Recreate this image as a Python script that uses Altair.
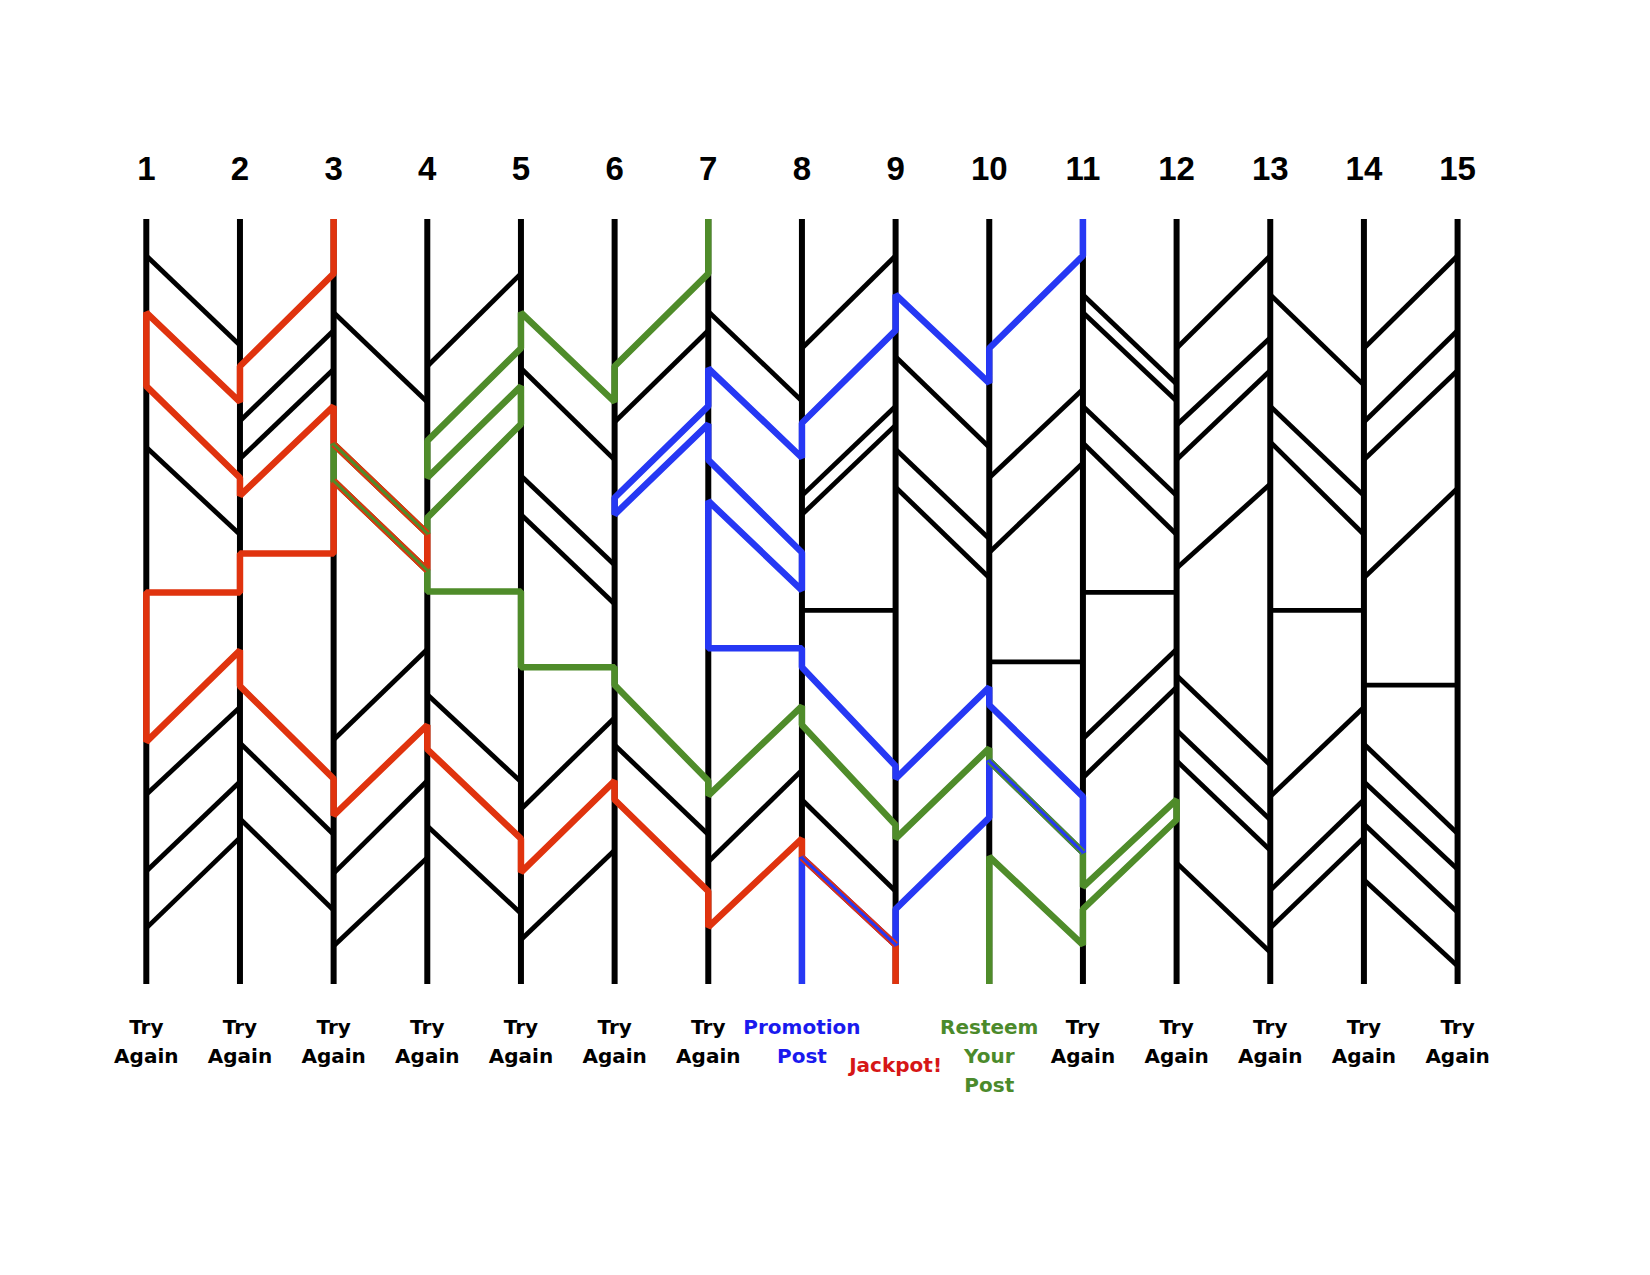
import altair as alt
import pandas as pd

# ---------------- data ----------------
columns = list(range(1, 16))
top_labels = [str(c) for c in columns]
bottom_labels = ["Try\nAgain"] * 7 + ["Promotion\nPost", "Jackpot!", "Resteem\nYour\nPost"] + ["Try\nAgain"] * 5
label_colors = ["#000000"] * 7 + ["#1a1aee", "#d61616", "#4b8a2b"] + ["#000000"] * 5

rail_top = 208
rail_bottom = 935

# rungs per gap: (y on left rail, y on right rail)
gap_01 = [(243, 328), (297, 382), (367, 454), (425, 508), (563, 563), (705, 618), (755, 672), (828, 743), (882, 796)]
gap_02 = [(348, 260), (400, 314), (436, 351), (471, 386), (526, 526), (652, 740), (706, 793), (778, 865)]
gap_03 = [(297, 382), (422, 507), (457, 542), (703, 617), (775, 689), (830, 742), (899, 815)]
gap_04 = [(348, 260), (419, 331), (454, 367), (492, 403), (562, 562), (660, 743), (712, 797), (785, 868)]
gap_05 = [(297, 382), (350, 437), (452, 537), (489, 574), (634, 634), (769, 682), (829, 742), (893, 808)]
gap_06 = [(348, 260), (401, 314), (473, 386), (489, 403), (651, 742), (708, 793), (760, 847)]
gap_07 = [(296, 381), (350, 435), (437, 525), (476, 561), (616, 616), (756, 671), (819, 732), (881, 797)]
gap_08 = [(331, 243), (402, 314), (471, 386), (489, 404), (580, 580), (634, 728), (689, 784), (760, 847), (815, 898)]
gap_09 = [(280, 364), (339, 425), (427, 512), (463, 549), (740, 653), (797, 711), (864, 777)]
gap_10 = [(331, 243), (454, 370), (525, 440), (629, 629), (670, 757), (723, 810), (814, 898)]
gap_11 = [(280, 365), (297, 381), (386, 471), (421, 508), (563, 563), (702, 617), (739, 653), (843, 760), (864, 779)]
gap_12 = [(331, 243), (404, 321), (437, 352), (540, 460), (642, 727), (694, 779), (723, 808), (820, 905)]
gap_13 = [(280, 366), (386, 471), (420, 508), (580, 580), (757, 672), (846, 760), (882, 796)]
gap_14 = [(331, 243), (401, 314), (437, 352), (549, 464), (651, 651), (707, 792), (743, 826), (783, 867), (836, 918)]
gaps = [gap_01, gap_02, gap_03, gap_04, gap_05, gap_06, gap_07,
        gap_08, gap_09, gap_10, gap_11, gap_12, gap_13, gap_14]

path_names = ["red", "green", "blue"]
path_starts = [3, 7, 11]
path_colors = ["#e0330e", "#4f8c2a", "#2638f4"]

# ---------------- ladder walk ----------------
def endpoints(col):
    pts = []
    if col > 1:
        for k, (yl, yr) in enumerate(gaps[col - 2]):
            pts.append((yr, col - 1, yl, (col - 2, k)))
    if col < 15:
        for k, (yl, yr) in enumerate(gaps[col - 1]):
            pts.append((yl, col + 1, yr, (col - 1, k)))
    return sorted(pts)


def walk(start):
    col, y = start, rail_top
    pts = [(col, y)]
    used = []
    while True:
        cands = [p for p in endpoints(col) if p[0] > y]
        if not cands:
            pts.append((col, rail_bottom))
            break
        yy, ncol, ny, rid = cands[0]
        pts.append((col, yy))
        pts.append((ncol, ny))
        used.append(rid)
        col, y = ncol, ny
    return pts, used


rung_rows = []
for g, lst in enumerate(gaps):
    for yl, yr in lst:
        rung_rows.append({"c1": g + 1, "c2": g + 2, "y1": yl, "y2": yr})
rungs_df = pd.DataFrame(rung_rows)

rails_df = pd.DataFrame({"c": columns, "y1": [rail_top] * 15, "y2": [rail_bottom] * 15})

walks = {}
path_rows = []
for name, s, colr in zip(path_names, path_starts, path_colors):
    pts, used = walk(s)
    walks[name] = set(used)
    for i, (c, y) in enumerate(pts):
        path_rows.append({"path": name, "step": i, "c": c, "y": y, "color": colr})
paths_df = pd.DataFrame(path_rows)

# shared rungs: lower colour underneath, upper colour thin on top
order = {n: i for i, n in enumerate(path_names)}
cmap = dict(zip(path_names, path_colors))
shared_under, shared_over = [], []
for a in path_names:
    for b in path_names:
        if order[a] < order[b]:
            for (g, k) in walks[a] & walks[b]:
                yl, yr = gaps[g][k]
                row = {"c1": g + 1, "c2": g + 2, "y1": yl, "y2": yr}
                shared_under.append({**row, "color": cmap[a]})
                shared_over.append({**row, "color": cmap[b]})
under_df = pd.DataFrame(shared_under)
over_df = pd.DataFrame(shared_over)

head_df = pd.DataFrame({"c": columns, "t": top_labels})
label_rows = []
for c, lab, colr in zip(columns, bottom_labels, label_colors):
    for li, part in enumerate(lab.split("\n")):
        label_rows.append({"c": c, "line": li, "t": part, "color": colr,
                           "single": len(lab.split("\n")) == 1})
labels_df = pd.DataFrame(label_rows)

# ---------------- scales ----------------
W, H = 1634, 1259
xs = alt.Scale(domain=[-0.4766, 16.969], nice=False, zero=False)
ys = alt.Scale(domain=[7.602, 1204.03], nice=False, zero=False, reverse=True)

X = lambda f: alt.X(f, type="quantitative", scale=xs, axis=None)
Y = lambda f: alt.Y(f, type="quantitative", scale=ys, axis=None)

rung_layer = alt.Chart(rungs_df).mark_rule(color="#000000", strokeWidth=4.8).encode(
    x=X("c1"), x2="c2", y=Y("y1"), y2="y2")
rail_layer = alt.Chart(rails_df).mark_rule(color="#000000", strokeWidth=6).encode(
    x=X("c"), y=Y("y1"), y2="y2")

path_layers = []
for name, colr in zip(path_names, path_colors):
    path_layers.append(
        alt.Chart(paths_df[paths_df.path == name]).mark_line(
            color=colr, strokeWidth=6.5, strokeJoin="bevel").encode(
            x=X("c"), y=Y("y"), order="step:Q"))

under_layer = alt.Chart(under_df).mark_rule(strokeWidth=6.5).encode(
    x=X("c1"), x2="c2", y=Y("y1"), y2="y2", color=alt.Color("color:N", scale=None))
over_layer = alt.Chart(over_df).mark_rule(strokeWidth=3).encode(
    x=X("c1"), x2="c2", y=Y("y1"), y2="y2", color=alt.Color("color:N", scale=None))

head_layer = alt.Chart(head_df).mark_text(
    font="Liberation Sans", fontWeight="bold", fontSize=33, baseline="middle", align="center",
    color="#000000").encode(x=X("c"), y=alt.value(162), text="t:N")

label_layers = []
line_y = [1020, 1049, 1078]
for li in range(3):
    sub = labels_df[(labels_df.line == li) & (~labels_df.single)]
    label_layers.append(
        alt.Chart(sub).mark_text(font="DejaVu Sans", fontWeight="bold", fontSize=20,
                                 baseline="middle", align="center").encode(
            x=X("c"), y=alt.value(line_y[li]), text="t:N",
            color=alt.Color("color:N", scale=None)))
single_layer = alt.Chart(labels_df[labels_df.single]).mark_text(
    font="DejaVu Sans", fontWeight="bold", fontSize=20, baseline="middle", align="center").encode(
    x=X("c"), y=alt.value(1058), text="t:N", color=alt.Color("color:N", scale=None))

chart = alt.layer(
    rung_layer, rail_layer, *path_layers, under_layer, over_layer,
    head_layer, *label_layers, single_layer
).properties(
    width=W, height=H, autosize="none", padding=0, background="#ffffff"
).configure_view(stroke=None)

chart.save("out.html", embed_options={"renderer": "svg", "actions": False})
